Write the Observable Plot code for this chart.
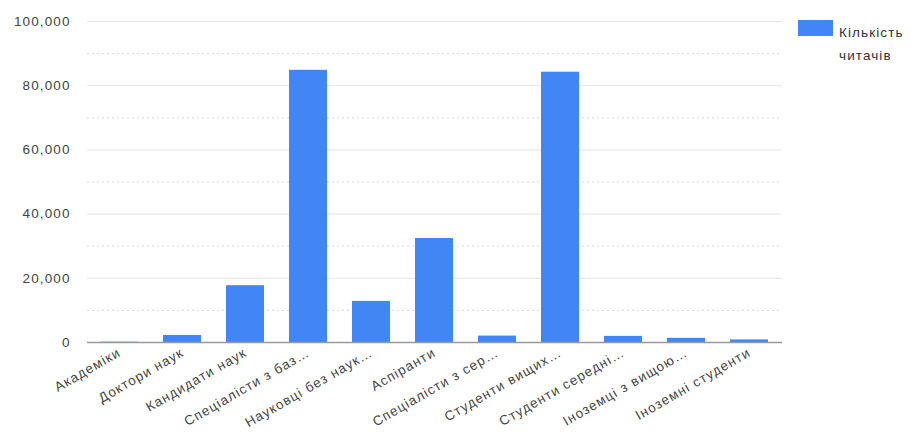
<!DOCTYPE html>
<html>
<head>
<meta charset="utf-8">
<script src="https://cdn.jsdelivr.net/npm/d3@7"></script>
<script src="https://cdn.jsdelivr.net/npm/@observablehq/plot@0.6"></script>
<style>
  html, body { margin: 0; padding: 0; background: #fff; overflow: hidden; }
  #wrap { position: relative; width: 911px; height: 440px; }
  #legend { position: absolute; left: 798px; top: 20px; font: 13.5px "Liberation Sans", Arial, sans-serif; letter-spacing: 1.1px; color: #333; white-space: nowrap; }
  #legend .sw { position: absolute; left: 0; top: 0; width: 35px; height: 16px; background: #4285f4; }
  #legend .tx { position: absolute; left: 41px; top: 1px; line-height: 23px; }
</style>
</head>
<body>
<div id="wrap">
  <div id="chart"></div>
  <div id="legend"><div class="sw"></div><div class="tx">Кількість<br>читачів</div></div>
</div>
<script>
const categories = ["Академіки", "Доктори наук", "Кандидати наук", "Спеціалісти з баз…", "Науковці без наук…", "Аспіранти", "Спеціалісти з сер…", "Студенти вищих…", "Студенти середні…", "Іноземці з вищою…", "Іноземні студенти"];
const readers = [100, 2200, 17700, 84800, 12800, 32400, 2000, 84200, 1900, 1300, 800];
const majorTicks = [0, 20000, 40000, 60000, 80000, 100000];
const minorTicks = [10000, 30000, 50000, 70000, 90000];

const data = categories.map((c, i) => ({category: c, value: readers[i]}));

const chart = Plot.plot({
  width: 911,
  height: 440,
  marginLeft: 87,
  marginRight: 129,
  marginTop: 21,
  marginBottom: 98,
  style: {fontFamily: "'Liberation Sans', Arial, sans-serif", fontSize: "13.5px", letterSpacing: "1.1px", color: "#444", background: "#fff"},
  x: {domain: categories, paddingInner: 0.39, paddingOuter: 0.19, label: null, tickSize: 0, tickRotate: -30, tickPadding: 9},
  y: {domain: [0, 100000], ticks: majorTicks, label: null, tickSize: 0, tickPadding: 17, tickFormat: d3.format(",")},
  marks: [
    Plot.ruleY(minorTicks, {stroke: "#d8d8d8", strokeDasharray: "2,3", strokeWidth: 1}),
    Plot.ruleY(majorTicks.slice(1), {stroke: "#e4e4e4", strokeWidth: 1}),
    Plot.barY(data, {x: "category", y: "value", fill: "#4285f4"}),
    Plot.ruleY([0], {stroke: "#999", strokeWidth: 1.5})
  ]
});
document.getElementById("chart").appendChild(chart);
</script>
</body>
</html>
